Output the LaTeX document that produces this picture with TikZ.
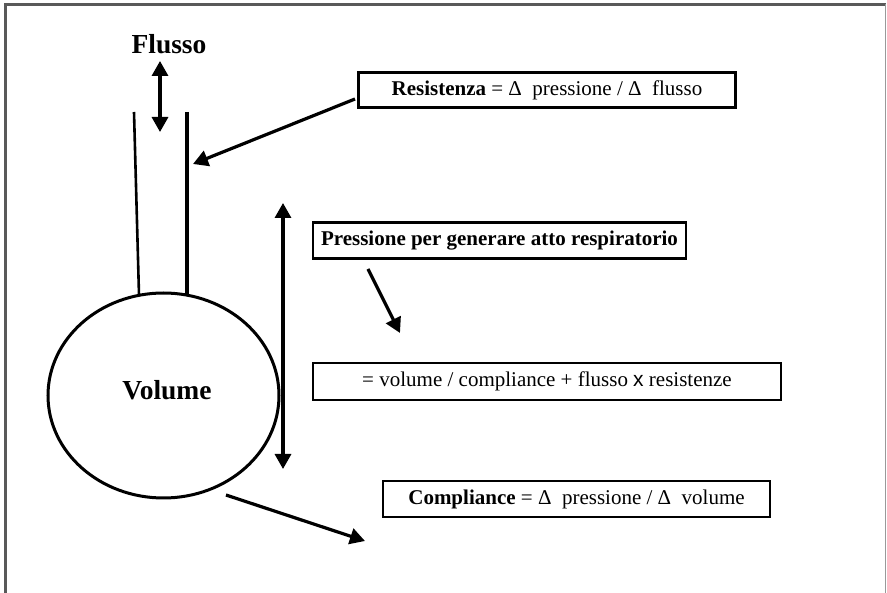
\documentclass[tikz,border=0pt]{standalone}
\usepackage{fontspec}
\setmainfont{Liberation Serif}
\newfontfamily\arialfont{Liberation Sans}
\usetikzlibrary{arrows.meta,shapes.geometric,positioning}

\tikzset{
  box/.style={draw,line width=2.2pt,inner sep=0pt,font=\fontsize{21}{25}\selectfont},
  arr/.style={line width=3.2pt,-{Triangle[width=16pt,length=15pt]}},
  darr/.style={line width=3.2pt,{Triangle[width=16pt,length=15pt]}-{Triangle[width=16pt,length=15pt]}},
  big/.style={font=\bfseries\fontsize{27.5}{32}\selectfont}
}

\begin{document}
\begin{tikzpicture}[x=1pt,y=-1pt]
    \useasboundingbox (0,0) rectangle (887,593);
    \draw[black!65,line width=3pt] (5.5,593) -- (5.5,4.5) -- (886,4.5);
    \draw[black!40,line width=1pt] (885.5,4.5) -- (885.5,593);
    \node[big] (flusso) at (169,44) {Flusso};
    \node[draw,ellipse,line width=3pt,inner sep=0pt,minimum width=231pt,minimum height=205pt] (vol) at (163.5,395.5) {};
    \node[big] (vollabel) at (167,390) {Volume};
    \coordinate (tl1) at (134,112);
    \coordinate (tl2) at (139,295);
    \coordinate (tr1) at (187,112);
    \coordinate (tr2) at (187,295);
    \draw[line width=2.6pt] (tl1) -- (tl2);
    \draw[line width=3.4pt] (tr1) -- (tr2);
    \coordinate (f1) at (160,61);
    \coordinate (f2) at (160,132);
    \draw[darr] (f1) -- (f2);
    \node[box,minimum width=377pt,minimum height=35pt] (res) at (547,90) {\textbf{Resistenza} = Δ\hspace{0.5em}pressione / Δ\hspace{0.5em}flusso};
    \node[box,minimum width=373pt,minimum height=36pt] (pres) at (499.5,240.5) {\textbf{Pressione per generare atto respiratorio}};
    \node[box,minimum width=468pt,minimum height=37pt] (form) at (547,381.5) {= volume / compliance + flusso {\arialfont x} resistenze};
    \node[box,minimum width=387pt,minimum height=36pt] (comp) at (576.5,499) {\textbf{Compliance} = Δ\hspace{0.5em}pressione / Δ\hspace{0.5em}volume};
    \coordinate (rtail) at (355,99);
    \coordinate (rtip) at (193,164);
    \draw[arr] (rtail) -- (rtip);
    \coordinate (p1) at (283,203);
    \coordinate (p2) at (283,469);
    \draw[darr] (p1) -- (p2);
    \coordinate (ptail) at (368,269);
    \coordinate (ptip) at (400,333);
    \draw[arr] (ptail) -- (ptip);
    \coordinate (ctail) at (226,495);
    \coordinate (ctip) at (365,541);
    \draw[arr] (ctail) -- (ctip);
\end{tikzpicture}
\end{document}
